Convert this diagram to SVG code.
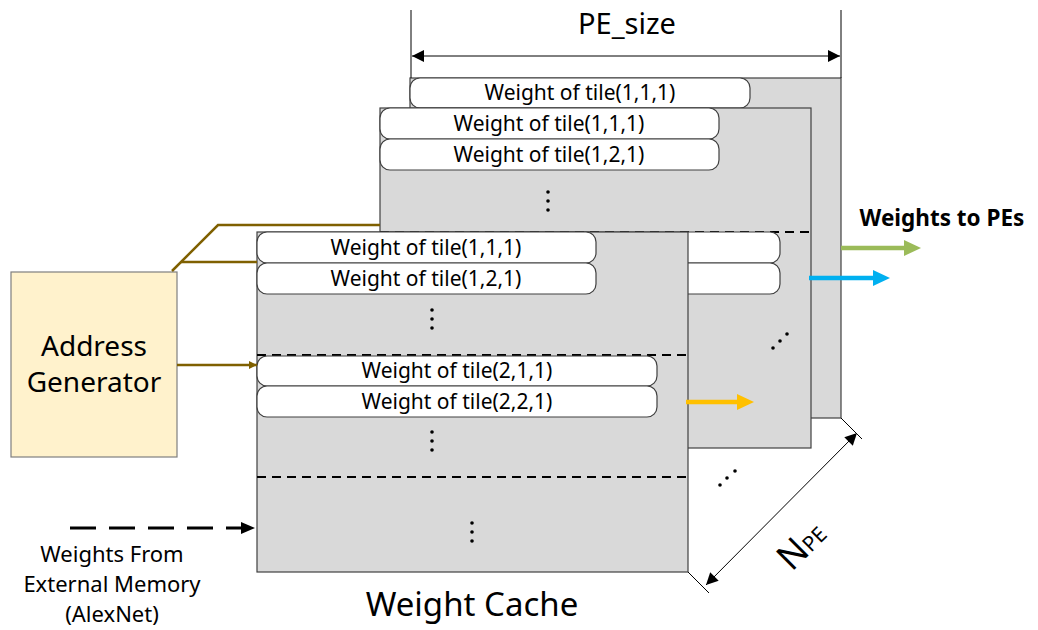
<svg xmlns="http://www.w3.org/2000/svg" width="1038" height="630" viewBox="0 0 1038 630">
<style>
.panel{fill:#D9D9D9;stroke:#404040;stroke-width:1.2}
.tile{fill:#FFFFFF;stroke:#404040;stroke-width:1.2}
.tt{font-family:"Noto Sans","Open Sans",sans-serif;font-size:21px;fill:#000;text-anchor:middle}
.lbl{font-family:"Noto Sans","Open Sans",sans-serif;fill:#000;text-anchor:middle}
.dash{stroke:#000;stroke-width:2;stroke-dasharray:9 6;fill:none}
.brown{stroke:#7F6000;stroke-width:2.5;fill:none}
.dim{stroke:#000;stroke-width:1;fill:none}
.dot{fill:#000}
</style>
<defs>
<marker id="ab" viewBox="0 0 10 10" refX="10" refY="5" markerWidth="10" markerHeight="8" markerUnits="userSpaceOnUse" orient="auto"><path d="M0,0 L10,5 L0,10 Z" fill="#7F6000"/></marker>
<marker id="ak" viewBox="0 0 10 10" refX="10" refY="5" markerWidth="14" markerHeight="12" markerUnits="userSpaceOnUse" orient="auto-start-reverse"><path d="M0,0 L10,5 L0,10 Z" fill="#000"/></marker>
</defs>

<g id="panel-back">
<rect class="panel" x="410" y="78" width="431" height="340"/>
<rect class="tile" x="410" y="78" width="340" height="30" rx="10"/>
<text class="tt" x="580" y="100">Weight of tile(1,1,1)</text>
</g>

<g id="panel-middle">
<rect class="panel" x="380" y="108" width="431" height="340"/>
<rect class="tile" x="380" y="108" width="339" height="31" rx="10"/>
<text class="tt" x="549" y="131">Weight of tile(1,1,1)</text>
<rect class="tile" x="380" y="139" width="339" height="31" rx="10"/>
<text class="tt" x="549" y="162">Weight of tile(1,2,1)</text>
<circle class="dot" cx="548" cy="192" r="1.8"/><circle class="dot" cx="548" cy="201" r="1.8"/><circle class="dot" cx="548" cy="210" r="1.8"/>
<line class="dash" x1="380" y1="232" x2="811" y2="232"/>
<rect class="tile" x="380" y="232" width="400" height="31" rx="10"/>
<rect class="tile" x="380" y="263" width="400" height="31" rx="10"/>
<circle class="dot" cx="773" cy="348" r="1.8"/><circle class="dot" cx="780" cy="341" r="1.8"/><circle class="dot" cx="787" cy="334" r="1.8"/>
</g>

<g id="panel-front">
<rect class="panel" x="257" y="232" width="431" height="340"/>
<rect class="tile" x="257" y="232" width="339" height="31" rx="10"/>
<text class="tt" x="426" y="255">Weight of tile(1,1,1)</text>
<rect class="tile" x="257" y="263" width="339" height="31" rx="10"/>
<text class="tt" x="426" y="286">Weight of tile(1,2,1)</text>
<circle class="dot" cx="432" cy="310" r="1.8"/><circle class="dot" cx="432" cy="319" r="1.8"/><circle class="dot" cx="432" cy="328" r="1.8"/>
<line class="dash" x1="257" y1="355" x2="688" y2="355"/>
<rect class="tile" x="257" y="356" width="400" height="30" rx="10"/>
<text class="tt" x="457" y="378">Weight of tile(2,1,1)</text>
<rect class="tile" x="257" y="386" width="400" height="31" rx="10"/>
<text class="tt" x="457" y="409">Weight of tile(2,2,1)</text>
<circle class="dot" cx="432" cy="432" r="1.8"/><circle class="dot" cx="432" cy="441" r="1.8"/><circle class="dot" cx="432" cy="450" r="1.8"/>
<line class="dash" x1="257" y1="477" x2="688" y2="477"/>
<circle class="dot" cx="472" cy="523" r="1.8"/><circle class="dot" cx="472" cy="532" r="1.8"/><circle class="dot" cx="472" cy="541" r="1.8"/>
</g>

<g id="outside-dots">
<circle class="dot" cx="720" cy="485" r="1.8"/><circle class="dot" cx="727" cy="478" r="1.8"/><circle class="dot" cx="735" cy="471" r="1.8"/>
</g>

<g id="address-generator">
<rect x="11" y="272" width="166" height="185" fill="#FFF2CC" stroke="#7F7F7F" stroke-width="1.2"/>
<text class="lbl" x="94" y="356" font-size="28">Address</text>
<text class="lbl" x="94" y="392" font-size="28">Generator</text>
</g>

<g id="connectors">
<polyline class="brown" points="172,271 218,225 380,225"/>
<line class="brown" x1="181" y1="262" x2="257" y2="262"/>
<line class="brown" x1="177" y1="365" x2="257" y2="365" marker-end="url(#ab)"/>
<line x1="70" y1="528" x2="244" y2="528" stroke="#000" stroke-width="3" stroke-dasharray="26 13"/>
<path d="M241,522 L255,528 L241,534 Z" fill="#000"/>
<line x1="841" y1="248" x2="906" y2="248" stroke="#9BBB59" stroke-width="4.5"/>
<path d="M904,240 L921,248 L904,256 Z" fill="#9BBB59"/>
<line x1="809" y1="278" x2="875" y2="278" stroke="#00B0F0" stroke-width="4.5"/>
<path d="M873,270 L890,278 L873,286 Z" fill="#00B0F0"/>
<line x1="686" y1="402" x2="739" y2="402" stroke="#FFC000" stroke-width="4.5"/>
<path d="M737,394 L754,402 L737,410 Z" fill="#FFC000"/>
</g>

<g id="dimension-pe-size">
<line class="dim" x1="411" y1="10" x2="411" y2="78"/>
<line class="dim" x1="841" y1="10" x2="841" y2="78"/>
<line class="dim" x1="412" y1="56" x2="840" y2="56" marker-start="url(#ak)" marker-end="url(#ak)"/>
<text class="lbl" x="627" y="34" font-size="29">PE_size</text>
</g>

<g id="dimension-npe">
<line class="dim" x1="688" y1="572" x2="709" y2="593"/>
<line class="dim" x1="841" y1="418" x2="862" y2="439"/>
<line class="dim" x1="706" y1="585" x2="857" y2="433" marker-start="url(#ak)" marker-end="url(#ak)"/>
<text class="lbl" transform="translate(810,554) rotate(-45)"><tspan font-size="36">N</tspan><tspan font-size="21">PE</tspan></text>
</g>

<g id="labels">
<text class="lbl" x="942" y="226" font-size="22.5" font-weight="bold">Weights to PEs</text>
<text class="lbl" x="112" y="562" font-size="22">Weights From</text>
<text class="lbl" x="112" y="592" font-size="22">External Memory</text>
<text class="lbl" x="112" y="622" font-size="22">(AlexNet)</text>
<text class="lbl" x="472" y="616" font-size="33">Weight Cache</text>
</g>
</svg>
